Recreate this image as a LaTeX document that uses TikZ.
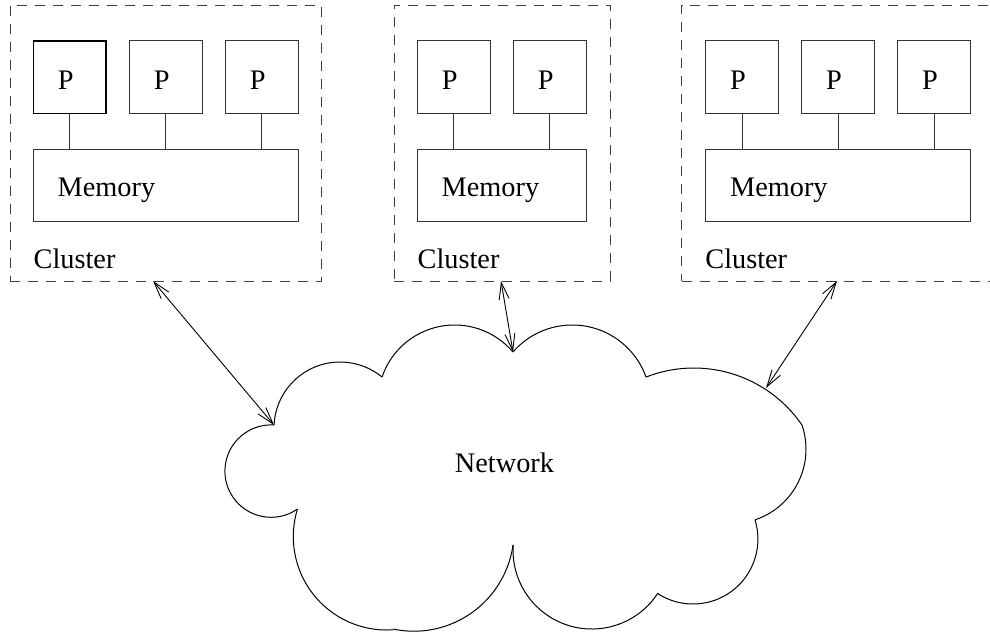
\documentclass[tikz,border=0pt]{standalone}
\usepackage{fontspec}
\setmainfont{Liberation Serif}
\usetikzlibrary{arrows.meta,calc}
\begin{document}
\begin{tikzpicture}[x=1pt,y=-1pt,
  font=\fontsize{28.3}{34}\selectfont,
  pbox/.style={draw=black!80, line width=1pt, minimum width=72.7pt, minimum height=72.7pt, inner sep=0pt},
  pboxbold/.style={pbox, draw=black, line width=1.7pt},
  membox/.style={draw=black!80, line width=1pt, minimum height=72pt, inner sep=0pt},
  clusterbox/.style={draw=black!75, line width=1pt, dash pattern=on 10pt off 8pt, inner sep=0pt, minimum height=276pt},
  ptxt/.style={inner sep=0pt, anchor=base},
  ltxt/.style={inner sep=0pt, anchor=base west},
  link/.style={draw=black!80, line width=1pt},
  lobe/.style={draw=black, line width=1pt},
  dbl/.style={draw=black, line width=0.9pt, {Straight Barb[length=17pt,width=10pt]}-{Straight Barb[length=17pt,width=10pt]}}
]
\path[use as bounding box, clip] (0,0) rectangle (990,633);

% ---------- cluster 1
\node[clusterbox, minimum width=311.7pt] (c1) at (165.85,143) {};
\node[pboxbold] (p11) at (69.7,77) {};
\node[pbox] (p12) at (165.7,77) {};
\node[pbox] (p13) at (261.7,77) {};
\node[membox, minimum width=264.7pt] (m1) at (165.65,185) {};
\foreach \i in {11,12,13}{
  \node[ptxt] (t\i) at ($(p\i)+(-4,12.3)$) {P};
  \draw[link] (p\i.south) -- (p\i.south |- m1.north);
}
\node[ltxt] (tm1) at ($(m1.west)+(24.7,11.7)$) {Memory};
\node[ltxt] (tc1) at ($(c1.south west)+(24,-12.7)$) {Cluster};

% ---------- cluster 2
\node[clusterbox, minimum width=216pt] (c2) at (502,143) {};
\node[pbox] (p21) at (453.7,77) {};
\node[pbox] (p22) at (549.7,77) {};
\node[membox, minimum width=168.7pt] (m2) at (501.65,185) {};
\foreach \i in {21,22}{
  \node[ptxt] (t\i) at ($(p\i)+(-4,12.3)$) {P};
  \draw[link] (p\i.south) -- (p\i.south |- m2.north);
}
\node[ltxt] (tm2) at ($(m2.west)+(24.7,11.7)$) {Memory};
\node[ltxt] (tc2) at ($(c2.south west)+(24,-12.7)$) {Cluster};

% ---------- cluster 3
\node[clusterbox, minimum width=312.3pt] (c3) at (837.85,143) {};
\node[pbox] (p31) at (742,77) {};
\node[pbox] (p32) at (838,77) {};
\node[pbox] (p33) at (934,77) {};
\node[membox, minimum width=264.6pt] (m3) at (838,185) {};
\foreach \i in {31,32,33}{
  \node[ptxt] (t\i) at ($(p\i)+(-4,12.3)$) {P};
  \draw[link] (p\i.south) -- (p\i.south |- m3.north);
}
\node[ltxt] (tm3) at ($(m3.west)+(24.7,11.7)$) {Memory};
\node[ltxt] (tc3) at ($(c3.south west)+(24,-12.7)$) {Cluster};

% ---------- network cloud
\foreach \cx/\cy/\r/\a/\b in {
  340.1/428.1/66.1/-177.3/-50.6,
  454.6/401.6/76.6/-161.3/-40.3,
  572.2/403.4/78.4/-139.0/-19.7,
  693.8/499.1/131.1/-111.4/-34.4,
  731.4/449.1/74.6/-18.8/71.6,
  693.0/539.1/64.9/-17.1/123.0,
  591.8/550.2/78.8/32.9/183.8,
  413.8/531.0/100.2/8.0/102.0,
  386.7/536.6/93.4/86.1/197.1,
  271.1/471.1/46.2/55.7/273.6}
  \draw[lobe] (\cx,\cy) ++(\a:\r) arc[start angle=\a, end angle=\b, radius=\r];
\node[ptxt] (net) at (504.5,472.7) {Network};

% ---------- connectors
\coordinate (a1) at (153,281);
\coordinate (a2) at (501,281);
\coordinate (a3) at (837,281);
\coordinate (n1) at (274,425);
\coordinate (n2) at (513,352);
\coordinate (n3) at (766,388);
\draw[dbl] (a1) -- (n1);
\draw[dbl] (a2) -- (n2);
\draw[dbl] (a3) -- (n3);
\end{tikzpicture}
\end{document}
